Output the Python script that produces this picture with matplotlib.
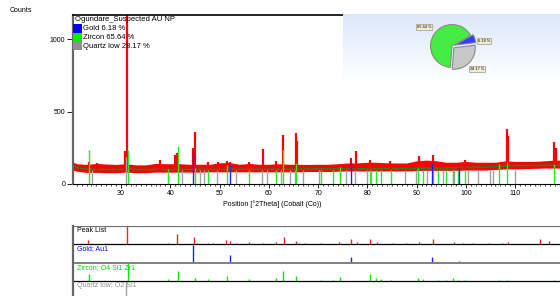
import numpy as np
import matplotlib
matplotlib.use("Agg")
import matplotlib.pyplot as plt
from matplotlib.patches import Rectangle

plt.rcParams['font.family'] = ['Liberation Sans', 'DejaVu Sans']

# --- data ------------------------------------------------------------------
# noisy measured band (lower / upper envelope) and fitted background
band_x = [20.3, 21, 23, 25, 27, 29, 31, 33, 35, 37, 39, 42, 44, 46, 48, 50, 52, 54, 56, 58, 60,
          62, 64, 66, 68, 70, 72, 74, 76, 78, 80, 82, 84, 86, 88, 90, 92, 94, 96, 98, 100,
          102, 104, 106, 108, 110, 112, 114, 116, 118, 119.1]
band_lo = [95, 88, 80, 80, 78, 78, 82, 78, 78, 82, 82, 82, 82, 82, 84, 84, 84, 84, 84, 84, 84,
           84, 84, 84, 86, 86, 86, 88, 90, 90, 90, 90, 90, 90, 90, 92, 94, 94, 94, 94, 96,
           96, 96, 100, 104, 104, 106, 108, 110, 110, 110]
band_hi = [150, 140, 135, 142, 138, 135, 140, 132, 132, 142, 140, 140, 136, 136, 136, 146, 148, 136, 142, 136, 136,
           140, 136, 136, 135, 136, 136, 140, 145, 146, 150, 150, 146, 145, 145, 160, 165, 160, 150, 150, 156,
           150, 150, 150, 160, 156, 156, 156, 160, 165, 165]
bg_x = [20.3, 21, 22, 24, 40, 60, 80, 95, 105, 110, 119.1]
bg_y = [130, 115, 105, 100, 100, 102, 105, 110, 118, 127, 130]

peak_pos = [23.4, 25.2, 30.9, 31.3, 37.9, 41.0, 41.3, 44.7, 44.95, 47.7, 49.7, 51.6, 52.2, 55.9,
            58.9, 61.5, 62.9, 65.5, 65.7, 76.6, 77.7, 80.6, 84.6, 90.4, 93.3, 99.8, 108.4, 108.6,
            117.8, 118.2]
peak_cts = [150, 145, 225, 1200, 165, 200, 215, 250, 362, 150, 155, 160, 155, 150,
            240, 160, 338, 350, 300, 178, 230, 165, 160, 195, 200, 165, 380, 330,
            292, 250]

gold_pos = [44.7, 52.1, 76.6, 93.2, 98.5]
gold_cts = [225, 130, 145, 145, 120]
gold_rel = [1.0, 0.45, 0.3, 0.3, 0.1]

zircon_pos = [23.4, 31.5, 39.6, 41.6, 45.1, 47.6, 51.5, 55.9, 61.4, 62.8, 65.5, 70.5, 73.1, 74.4,
              80.6, 81.8, 82.8, 84.8, 90.3, 91.3, 94.3, 96.0, 97.3, 98.4, 99.8, 106.8, 108.3, 117.9]
zircon_cts = [234, 234, 105, 262, 110, 95, 131, 100, 95, 234, 145, 95, 100, 120,
              100, 100, 100, 100, 110, 100, 100, 100, 100, 100, 100, 138, 150, 140]
zircon_rel = [0.4, 1.0, 0.1, 0.55, 0.15, 0.1, 0.25, 0.1, 0.15, 0.55, 0.25, 0.05, 0.08, 0.2,
              0.4, 0.15, 0.1, 0.08, 0.15, 0.1, 0.08, 0.08, 0.15, 0.05, 0.05, 0.08, 0.08, 0.05]

quartz_pos = [24.2, 31.0, 42.4, 46.0, 46.9, 49.4, 53.3, 58.7, 59.6, 62.4, 64.3, 65.3, 67.0, 70.2,
              75.6, 77.4, 80.0, 80.7, 87.7, 89.8, 92.2, 93.4, 95.4, 97.4, 97.6, 100.4, 102.5,
              104.8, 105.5, 110.0]
quartz_cts = [97, 186, 97, 97, 97, 97, 97, 97, 97, 97, 97, 97, 97, 97,
              97, 97, 97, 97, 97, 97, 97, 97, 97, 97, 97, 97, 97,
              97, 97, 97]
quartz_rel = [0.2, 1.0, 0.05, 0.05, 0.05, 0.05, 0.05, 0.05, 0.05, 0.05, 0.05, 0.05, 0.05, 0.05,
              0.05, 0.05, 0.05, 0.05, 0.05, 0.05, 0.05, 0.05, 0.05, 0.05, 0.05, 0.05, 0.05,
              0.05, 0.05, 0.05]

list_pos = [23.3, 31.3, 39.5, 41.3, 44.8, 45.4, 47.7, 48.6, 51.4, 52.2, 53.4, 55.9, 58.9, 61.4,
            63.0, 65.5, 66.1, 67.4, 70.5, 74.3, 76.6, 77.9, 80.6, 82.0, 85.2, 87.9, 90.4, 93.4,
            97.5, 99.5, 101.5, 104.6, 107.3, 108.6, 115.1, 116.8]
list_rel = [0.25, 1.0, 0.1, 0.55, 0.4, 0.1, 0.08, 0.08, 0.22, 0.18, 0.08, 0.12, 0.1, 0.12,
            0.42, 0.2, 0.08, 0.1, 0.08, 0.15, 0.28, 0.12, 0.3, 0.15, 0.08, 0.08, 0.15, 0.3,
            0.15, 0.1, 0.08, 0.08, 0.1, 0.12, 0.3, 0.2]

phase_names = ['Gold 6.18 %', 'Zircon 65.64 %', 'Quartz low 28.17 %']
phase_frac = [6.18, 65.64, 28.17]
phase_cols = ['#0000ff', '#00ee00', '#909090']
strip_names = ['Peak List', 'Gold; Au1', 'Zircon; O4 Si1 Zr1', 'Quartz low; O2 Si1']
strip_cols = ['#000000', '#0000ff', '#00dd00', '#909090']

# --- layout helpers (pixel coords, y from top) --------------------------------
W, H = 560, 296
def rect(x0, y0, x1, y1):
    return [x0 / W, 1 - y1 / H, (x1 - x0) / W, (y1 - y0) / H]

XLIM = (20.25, 119.1)
fig = plt.figure(figsize=(W / 100, H / 100), dpi=100)

# %% main pattern
ax = fig.add_axes(rect(73, 15, 560, 184))
ax.fill_between(band_x, band_lo, band_hi, color='#ff0000', lw=0, zorder=1)
ax.plot(bg_x, bg_y, color='#2e7d1e', lw=1.2, zorder=2)
ax.vlines(quartz_pos, 0, quartz_cts, color='#a0a0a0', lw=1.0, zorder=3)
ax.vlines(zircon_pos, 0, zircon_cts, color='#22ee22', lw=1.0, zorder=3)
ax.vlines(gold_pos, 0, gold_cts, color='#2020ff', lw=1.0, zorder=3)
ax.vlines(peak_pos, [np.interp(p, bg_x, bg_y) for p in peak_pos], peak_cts,
          color='#ff0000', lw=1.6, zorder=2.5)

ax.set_xlim(*XLIM)
ax.set_ylim(0, 1166)
ax.set_xticks(range(30, 111, 10))
ax.set_xticks(range(21, 120), minor=True)
ax.set_yticks([0, 500, 1000])
ax.tick_params(axis='both', labelsize=5, direction='out', pad=1.5, width=0.6)
ax.tick_params(axis='x', which='major', length=3)
ax.tick_params(axis='x', which='minor', length=1.5, width=0.5)
ax.tick_params(axis='y', length=4)
ax.spines['right'].set_visible(False)
ax.spines['left'].set_color('#666666')
ax.spines['left'].set_linewidth(1.6)
ax.spines['top'].set_linewidth(1.2)
ax.spines['bottom'].set_linewidth(0.8)

fig.text(10 / W, 1 - 10 / H, 'Counts', fontsize=5, va='center', ha='left')
fig.text(272 / W, 1 - 204 / H, 'Position [°2Theta] (Cobalt (Co))', fontsize=5,
         ha='center', va='center')

# legend box
fig.text(75 / W, 1 - 19.5 / H, 'Ogundare_Suspected AU NP', fontsize=5.5, va='center')
for i, (name, col) in enumerate(zip(phase_names, phase_cols)):
    y0 = 24 + i * 8.7
    fig.add_artist(Rectangle((73 / W, 1 - (y0 + 8.5) / H), 8.5 / W, 8.5 / H,
                             transform=fig.transFigure, color=col, lw=0))
    fig.text(83 / W, 1 - (y0 + 4.6) / H, name, fontsize=5.5, va='center')

# %% pie inset
gax = fig.add_axes(rect(343, 14, 560, 80))
grad = np.linspace(0, 1, 50)[:, None]
top = np.array([0.86, 0.91, 0.98])
bot = np.array([0.99, 0.995, 1.0])
img = top[None, None, :] * (1 - grad[..., None]) + bot[None, None, :] * grad[..., None]
gax.imshow(img, aspect='auto', extent=(0, 1, 0, 1))
gax.axis('off')

pax = fig.add_axes(rect(422, 16, 482, 76))
pax.pie(phase_frac, colors=['#3a3aff', '#44ec44', '#c8c8c8'], startangle=7,
        explode=(0.12, 0, 0.12), wedgeprops=dict(edgecolor='#8a8a8a', lw=0.8))
pax.set_xlim(-1.4, 1.4)
pax.set_ylim(-1.4, 1.4)
pax.axis('off')
pie_lbl_xy = [(484, 41), (424, 27), (477, 69)]
for (lx, ly), v in zip(pie_lbl_xy, phase_frac):
    fig.text(lx / W, 1 - ly / H, f'{v:.2f} %', fontsize=2.8, ha='center', va='center',
             bbox=dict(boxstyle='square,pad=0.25', fc='#f2ecd2', ec='#9a9a80', lw=0.5))

# %% peak list / reference strips
sax = fig.add_axes(rect(73, 226, 560, 296))
SH = 18.33
sax.set_xlim(*XLIM)
sax.set_ylim(70 / SH, 0)
strips = [(list_pos, list_rel, '#ff2020'), (gold_pos, gold_rel, '#2020ff'),
          (zircon_pos, zircon_rel, '#00ee00'), (quartz_pos, quartz_rel, '#a0a0a0')]
for k, (pos, rel, col) in enumerate(strips):
    base = k + 1
    sax.vlines(pos, base, [base - r * 0.98 for r in rel], color=col, lw=1.0)
    sax.text(21.0, k + 0.05, strip_names[k], color=strip_cols[k], fontsize=5,
             va='top', ha='left')
for k, (c, w) in enumerate([('#707070', 1.6), ('#000000', 0.9), ('#808080', 1.4), ('#000000', 0.9)]):
    sax.axhline(k, color=c, lw=w)
sax.set_xticks([])
sax.set_yticks([])
for s in ['top', 'right', 'bottom']:
    sax.spines[s].set_visible(False)
sax.spines['left'].set_color('#666666')
sax.spines['left'].set_linewidth(1.6)

fig.savefig('out.png', dpi=100)
